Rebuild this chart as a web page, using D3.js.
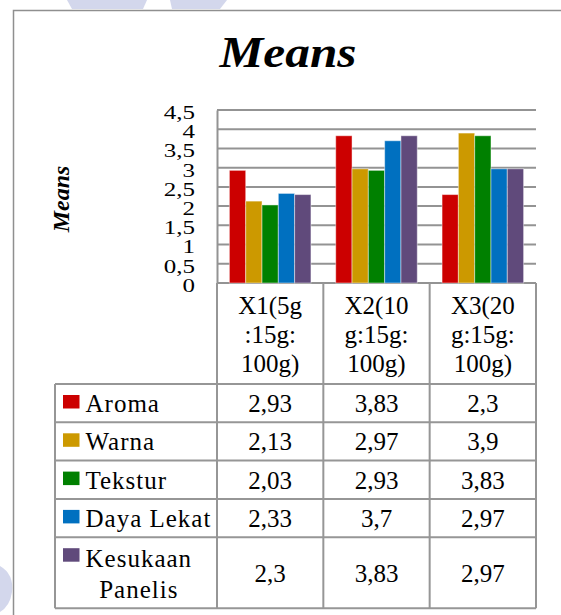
<!DOCTYPE html>
<html>
<head>
<meta charset="utf-8">
<script src="https://cdn.jsdelivr.net/npm/d3@7"></script>
<style>
  body { margin: 0; background: #fff; }
</style>
</head>
<body>
<div id="chart"></div>
<script>
// Chart data
var categoryLines = [
    ["X1(5g", ":15g:", "100g)"],
    ["X2(10", "g:15g:", "100g)"],
    ["X3(20", "g:15g:", "100g)"]
];
var categories = ["X1", "X2", "X3"];
var seriesNames = ["Aroma", "Warna", "Tekstur", "Daya Lekat", "Kesukaan Panelis"];
var aroma = [2.93, 3.83, 2.3];
var warna = [2.13, 2.97, 3.9];
var tekstur = [2.03, 2.93, 3.83];
var dayaLekat = [2.33, 3.7, 2.97];
var kesukaan = [2.3, 3.83, 2.97];
var yTicks = [0, 0.5, 1, 1.5, 2, 2.5, 3, 3.5, 4, 4.5];
var colors = ["#cc0000", "#cc9900", "#008000", "#0070c0", "#604a7b"];

var seriesValues = [aroma, warna, tekstur, dayaLekat, kesukaan];
var series = seriesNames.map((name, i) => ({ name: name, values: seriesValues[i], color: colors[i] }));

// SVG area
var svgWidth = 561;
var svgHeight = 615;
var serif = "'Liberation Serif', 'Times New Roman', Times, serif";

var plot = { left: 217, right: 536, top: 110, bottom: 283 };
var tableLeft = 55;
var tableTop = 384;
var rowHeights = [38.3, 38.3, 38.3, 38.3, 71];

var fmt = v => String(v).replace(".", ",");

var svg = d3.select("#chart")
    .append("svg")
    .attr("width", svgWidth)
    .attr("height", svgHeight)
    .attr("font-family", serif);

// faint background marks of the page
var wm = svg.append("g").attr("fill", "#d3d7ec");
wm.append("path").attr("d", "M67,0 L147,0 L143,9 L72,9 Z");
wm.append("path").attr("d", "M170,0 L227,0 L220,9 L172,9 Z");
wm.append("path").attr("d", "M0,566 Q14,574 12,592 Q10,606 0,612 Z");

// outer frame
svg.append("path")
    .attr("d", "M13.5,620 L13.5,10.5 L570,10.5")
    .attr("fill", "none")
    .attr("stroke", "#8f8f8f")
    .attr("stroke-width", 1.5);

// title
svg.append("text")
    .attr("x", 288)
    .attr("y", 67)
    .attr("text-anchor", "middle")
    .style("font-family", serif)
    .style("font-size", "44px")
    .style("font-weight", "bold")
    .style("font-style", "italic")
    .attr("textLength", 137)
    .attr("lengthAdjust", "spacingAndGlyphs")
    .text("Means");

// scales
var xScale = d3.scaleBand()
    .domain(categories)
    .range([plot.left, plot.right]);

var xInner = d3.scaleBand()
    .domain(seriesNames)
    .range([0, xScale.bandwidth()])
    .paddingOuter(0.76);

var yScale = d3.scaleLinear()
    .domain([0, 4.5])
    .range([plot.bottom, plot.top]);

// gridlines
svg.append("g")
    .selectAll("line")
    .data(yTicks)
    .enter()
    .append("line")
    .attr("x1", plot.left)
    .attr("x2", plot.right)
    .attr("y1", d => yScale(d))
    .attr("y2", d => yScale(d))
    .attr("stroke", "#939393")
    .attr("stroke-width", 2);

// y axis
var leftAxis = d3.axisLeft(yScale)
    .tickValues(yTicks)
    .tickSize(0)
    .tickPadding(22)
    .tickFormat(fmt);

var yAxisG = svg.append("g")
    .attr("transform", `translate(${plot.left}, 0)`)
    .call(leftAxis)
    .attr("font-family", serif);
yAxisG.select(".domain").attr("stroke", "#939393").attr("stroke-width", 2);
yAxisG.selectAll("text")
    .attr("dy", "0.45em")
    .attr("fill", "#000")
    .attr("transform", "scale(1, 0.74)")
    .style("font-size", "25px")
    .style("font-family", serif);

// y axis title
svg.append("text")
    .attr("transform", "translate(69, 199) rotate(-90)")
    .attr("text-anchor", "middle")
    .style("font-family", serif)
    .style("font-size", "24px")
    .style("font-weight", "bold")
    .style("font-style", "italic")
    .text("Means");

// bars
var groups = svg.append("g")
    .selectAll("g")
    .data(series)
    .enter()
    .append("g")
    .attr("fill", d => d.color);

groups.selectAll("rect")
    .data(d => d.values.map((v, j) => ({ name: d.name, cat: categories[j], value: v })))
    .enter()
    .append("rect")
    .attr("x", d => xScale(d.cat) + xInner(d.name))
    .attr("width", xInner.bandwidth())
    .attr("y", d => yScale(d.value))
    .attr("height", d => yScale(0) - yScale(d.value))
    .attr("stroke", "rgba(255,255,255,0.45)")
    .attr("stroke-width", 1);

// data table
var rowTops = [tableTop].concat(Array.from(d3.cumsum(rowHeights)).map(h => tableTop + h));
var tableBottom = rowTops[rowTops.length - 1];
var lineColor = "#969696";

var table = svg.append("g");

// horizontal lines
table.selectAll("line.h")
    .data(rowTops)
    .enter()
    .append("line")
    .attr("x1", tableLeft)
    .attr("x2", plot.right)
    .attr("y1", d => d)
    .attr("y2", d => d)
    .attr("stroke", lineColor)
    .attr("stroke-width", 2);

// vertical lines in the category header and body
var colEdges = categories.map(c => xScale(c)).concat([plot.right]);
table.selectAll("line.v")
    .data(colEdges)
    .enter()
    .append("line")
    .attr("x1", d => d)
    .attr("x2", d => d)
    .attr("y1", plot.bottom)
    .attr("y2", tableBottom)
    .attr("stroke", lineColor)
    .attr("stroke-width", 2);

table.append("line")
    .attr("x1", tableLeft)
    .attr("x2", tableLeft)
    .attr("y1", tableTop)
    .attr("y2", tableBottom)
    .attr("stroke", lineColor)
    .attr("stroke-width", 2);

// category labels
var catLabel = svg.append("g")
    .selectAll("text")
    .data(categories)
    .enter()
    .append("text")
    .attr("text-anchor", "middle")
    .style("font-family", serif)
    .style("font-size", "25px");

catLabel.selectAll("tspan")
    .data((d, i) => categoryLines[i].map(t => ({ t: t, x: xScale(d) + xScale.bandwidth() / 2 })))
    .enter()
    .append("tspan")
    .attr("x", d => d.x)
    .attr("y", (d, k) => 314 + k * 28.8)
    .text(d => d.t);

// legend rows
series.forEach((s, i) => {
    var top = rowTops[i];
    var h = rowHeights[i];

    table.append("rect")
        .attr("x", 63)
        .attr("y", top + 11)
        .attr("width", 16.5)
        .attr("height", 13.5)
        .attr("fill", s.color);

    var words = s.name === "Kesukaan Panelis" ? ["Kesukaan", "Panelis"] : [s.name];
    var label = table.append("text")
        .style("font-family", serif)
        .style("font-size", "25px")
        .style("letter-spacing", "1px");
    if (words.length === 1) {
        label.attr("x", 85.5).attr("y", top + 28).text(words[0]);
    } else {
        var first = label.append("tspan").attr("x", 85.5).attr("y", top + 30).text(words[0]);
        var w = first.node().getComputedTextLength();
        label.append("tspan")
            .attr("x", 85.5 + w / 2)
            .attr("y", top + 61)
            .attr("text-anchor", "middle")
            .text(words[1]);
    }

    table.selectAll(null)
        .data(s.values)
        .enter()
        .append("text")
        .attr("x", (v, j) => xScale(categories[j]) + xScale.bandwidth() / 2)
        .attr("y", top + h / 2 + 9)
        .attr("text-anchor", "middle")
        .style("font-family", serif)
        .style("font-size", "25px")
        .text(v => fmt(v));
});
</script>
</body>
</html>
